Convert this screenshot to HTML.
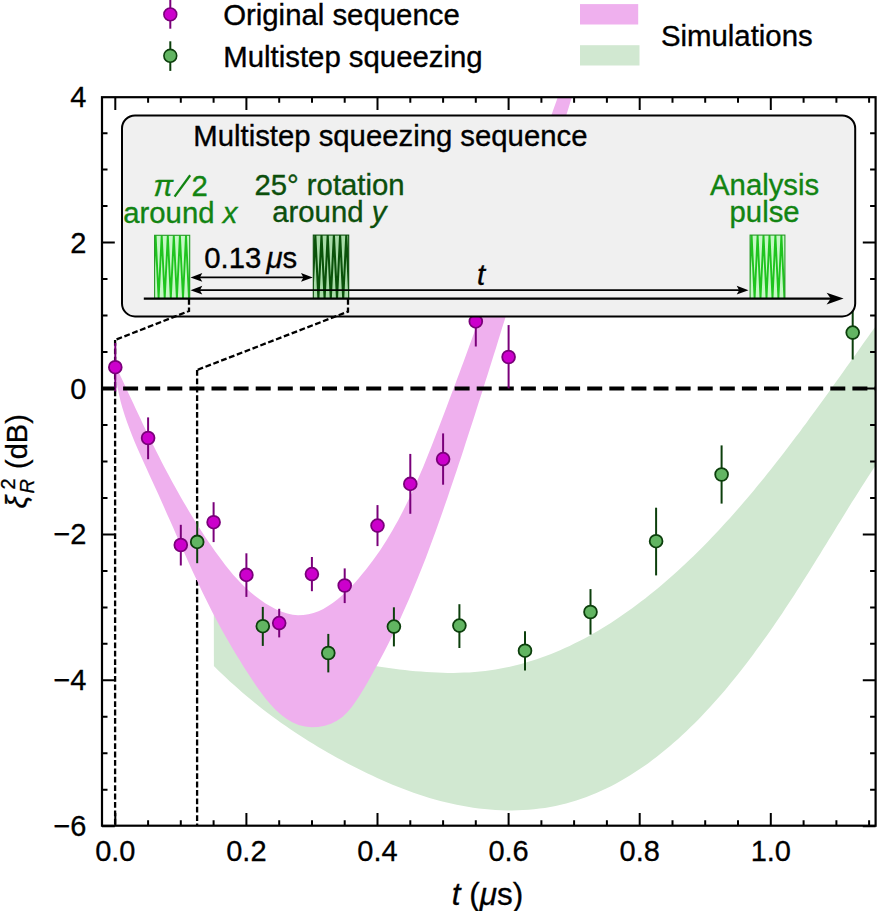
<!DOCTYPE html>
<html><head><meta charset="utf-8"><style>html,body{margin:0;padding:0;background:#fff;width:877px;height:911px;overflow:hidden}svg{display:block}</style></head>
<body><svg width="877" height="911" viewBox="0 0 877 911">
<defs><clipPath id="ax"><rect x="102.0" y="97.2" width="773.6" height="728.5"/></clipPath></defs>
<rect width="877" height="911" fill="#fff"/>
<g clip-path="url(#ax)">
 <path d="M115.1,340V826M197.1,370V826" stroke="#000" stroke-width="2.3" stroke-dasharray="5.8 2.6" fill="none"/>
 <polygon points="213.8,600.5 218.0,603.7 222.3,606.9 226.6,609.9 231.0,612.9 235.4,615.8 239.8,618.5 244.3,621.2 248.8,623.9 253.4,626.4 258.0,628.8 262.6,631.2 267.3,633.5 272.1,635.7 276.8,637.8 281.6,639.9 286.4,641.9 291.3,643.8 296.2,645.6 301.1,647.4 306.1,649.1 311.0,650.7 316.1,652.3 321.1,653.8 326.2,655.3 331.3,656.6 336.4,657.9 341.5,659.2 346.7,660.4 351.9,661.5 357.1,662.6 362.4,663.6 367.6,664.6 372.9,665.5 378.2,666.4 383.5,667.2 388.8,668.0 394.2,668.8 399.5,669.4 404.9,670.1 410.3,670.7 415.7,671.2 421.1,671.6 426.5,672.0 431.9,672.3 437.3,672.6 442.6,672.8 448.0,672.9 453.4,672.9 458.7,672.8 464.1,672.6 469.4,672.4 474.7,672.0 479.9,671.5 485.2,671.0 490.4,670.3 495.6,669.5 500.7,668.6 505.8,667.6 510.9,666.5 516.0,665.3 521.0,664.0 526.0,662.6 531.0,661.1 535.9,659.5 540.8,657.8 545.7,656.0 550.5,654.2 555.4,652.2 560.1,650.2 564.9,648.1 569.6,645.9 574.3,643.6 579.0,641.3 583.6,638.9 588.2,636.4 592.8,633.8 597.3,631.2 601.8,628.5 606.3,625.8 610.8,623.0 615.2,620.1 619.6,617.1 623.9,614.1 628.2,611.1 632.5,608.0 636.8,604.8 641.0,601.6 645.2,598.4 649.4,595.1 653.5,591.7 657.6,588.4 661.7,584.9 665.7,581.5 669.7,578.0 673.7,574.5 677.6,570.9 681.6,567.3 685.4,563.7 689.3,560.0 693.1,556.4 696.9,552.7 700.7,548.9 704.4,545.2 708.1,541.4 711.8,537.6 715.4,533.7 719.0,529.9 722.6,526.0 726.2,522.1 729.8,518.2 733.3,514.3 736.8,510.3 740.3,506.3 743.7,502.3 747.2,498.3 750.6,494.2 754.0,490.2 757.3,486.1 760.7,482.0 764.0,477.9 767.3,473.8 770.6,469.7 773.9,465.5 777.2,461.3 780.4,457.2 783.7,453.0 786.9,448.8 790.1,444.6 793.3,440.3 796.5,436.1 799.7,431.9 802.8,427.6 806.0,423.4 809.1,419.1 812.2,414.8 815.4,410.6 818.5,406.3 821.6,402.0 824.7,397.7 827.8,393.4 830.9,389.1 833.9,384.8 837.0,380.5 840.1,376.2 843.1,371.9 846.2,367.6 849.3,363.3 852.3,359.0 855.4,354.7 858.4,350.4 861.5,346.1 864.5,341.8 867.6,337.6 870.6,333.3 873.7,329.0 876.8,324.7 879.8,320.5 882.9,316.2 886.0,312.0 885.9,449.8 882.6,454.6 879.4,459.4 876.3,464.2 873.2,468.9 870.1,473.7 867.0,478.5 864.0,483.2 860.9,488.0 858.0,492.7 855.0,497.4 852.0,502.1 849.1,506.8 846.2,511.5 843.3,516.2 840.4,520.9 837.5,525.6 834.7,530.2 831.8,534.9 828.9,539.5 826.1,544.2 823.2,548.8 820.4,553.4 817.5,558.1 814.6,562.7 811.8,567.3 808.9,571.9 806.0,576.5 803.1,581.1 800.2,585.7 797.2,590.3 794.3,594.9 791.3,599.4 788.3,604.0 785.3,608.6 782.3,613.2 779.2,617.7 776.1,622.3 772.9,626.9 769.8,631.4 766.6,636.0 763.3,640.5 760.1,645.1 756.7,649.6 753.4,654.2 750.0,658.7 746.6,663.2 743.1,667.7 739.6,672.2 736.0,676.7 732.5,681.1 728.8,685.5 725.2,689.9 721.5,694.2 717.7,698.5 713.9,702.8 710.1,707.0 706.3,711.1 702.4,715.3 698.4,719.4 694.4,723.4 690.4,727.3 686.4,731.3 682.3,735.1 678.1,738.9 673.9,742.6 669.7,746.3 665.4,749.8 661.1,753.3 656.8,756.8 652.4,760.1 648.0,763.4 643.5,766.5 639.0,769.6 634.4,772.6 629.8,775.5 625.2,778.3 620.5,781.1 615.7,783.7 611.0,786.2 606.2,788.6 601.3,790.8 596.4,793.0 591.4,795.1 586.5,797.0 581.4,798.8 576.3,800.5 571.2,802.1 566.1,803.5 560.8,804.8 555.6,806.0 550.3,807.0 544.9,807.9 539.6,808.6 534.1,809.3 528.7,809.7 523.2,810.1 517.7,810.3 512.2,810.4 506.6,810.4 501.1,810.2 495.5,809.9 489.9,809.5 484.4,809.0 478.8,808.4 473.2,807.7 467.7,806.8 462.2,805.8 456.7,804.8 451.2,803.6 445.7,802.3 440.3,800.9 434.9,799.5 429.5,797.9 424.2,796.2 418.8,794.5 413.5,792.7 408.3,790.8 403.0,788.8 397.8,786.8 392.6,784.7 387.4,782.5 382.3,780.3 377.2,778.0 372.1,775.6 367.1,773.2 362.1,770.8 357.1,768.3 352.1,765.7 347.2,763.2 342.3,760.6 337.4,757.9 332.6,755.2 327.7,752.5 323.0,749.7 318.2,746.9 313.5,744.1 308.8,741.2 304.2,738.2 299.5,735.3 294.9,732.2 290.4,729.2 285.8,726.1 281.3,722.9 276.9,719.7 272.4,716.5 268.0,713.2 263.7,709.9 259.3,706.5 255.0,703.0 250.8,699.6 246.5,696.0 242.3,692.5 238.2,688.8 234.0,685.1 229.9,681.4 225.8,677.6 221.8,673.8 217.8,669.9 213.9,666.0" fill="#d1e8d1"/>
 <polygon points="115.8,365.6 118.2,371.0 120.7,376.4 123.2,381.7 125.6,387.1 128.1,392.4 130.6,397.8 133.1,403.1 135.6,408.5 138.1,413.8 140.6,419.1 143.1,424.4 145.7,429.7 148.2,435.0 150.8,440.3 153.4,445.6 156.0,450.8 158.7,456.0 161.3,461.2 164.0,466.4 166.7,471.6 169.5,476.8 172.3,481.9 175.1,487.0 177.9,492.1 180.8,497.2 183.7,502.3 186.7,507.3 189.6,512.3 192.7,517.3 195.7,522.2 198.9,527.2 202.0,532.1 205.2,536.9 208.5,541.8 211.8,546.6 215.2,551.4 218.6,556.1 222.1,560.8 225.6,565.5 229.3,570.1 233.1,574.7 237.1,579.1 241.3,583.5 245.7,587.8 250.3,591.9 255.2,596.0 260.3,599.8 265.5,603.4 270.9,606.6 276.3,609.4 281.8,611.8 287.3,613.6 292.7,614.8 298.0,615.3 303.3,615.1 308.5,614.3 313.5,613.0 318.5,611.2 323.3,608.9 328.1,606.1 332.7,603.0 337.3,599.5 341.7,595.8 346.0,591.7 350.3,587.5 354.4,583.2 358.4,578.7 362.2,574.1 366.0,569.5 369.6,564.8 373.2,560.1 376.6,555.3 380.0,550.4 383.2,545.5 386.4,540.5 389.4,535.5 392.4,530.4 395.3,525.3 398.2,520.2 400.9,515.0 403.6,509.8 406.2,504.5 408.8,499.2 411.3,493.9 413.8,488.5 416.2,483.2 418.5,477.8 420.9,472.3 423.2,466.9 425.4,461.4 427.6,456.0 429.8,450.5 432.0,445.0 434.1,439.5 436.2,434.0 438.4,428.5 440.5,423.0 442.6,417.5 444.7,412.0 446.8,406.5 448.8,400.9 450.9,395.4 453.0,389.9 455.1,384.4 457.1,378.9 459.2,373.4 461.2,367.9 463.3,362.4 465.3,356.9 467.3,351.4 469.3,345.9 471.4,340.3 473.4,334.8 475.4,329.3 477.4,323.8 479.4,318.3 481.4,312.8 483.4,307.3 485.4,301.8 487.4,296.2 489.4,290.7 491.3,285.2 493.3,279.7 495.3,274.2 497.3,268.6 499.2,263.1 501.2,257.6 503.2,252.1 505.1,246.6 507.1,241.0 509.1,235.5 511.0,230.0 513.0,224.4 514.9,218.9 516.9,213.4 518.8,207.8 520.8,202.3 522.7,196.8 524.7,191.2 526.6,185.7 528.6,180.1 530.5,174.6 532.5,169.0 534.4,163.5 536.4,157.9 538.3,152.4 540.3,146.8 542.2,141.3 544.2,135.7 546.2,130.1 548.1,124.6 550.1,119.0 552.0,113.4 554.0,107.8 556.0,102.3 557.9,96.7 559.9,91.1 561.9,85.5 563.9,79.9 577.0,80.1 574.9,86.9 572.8,93.8 570.8,100.6 568.7,107.5 566.6,114.3 564.6,121.2 562.5,128.0 560.5,134.9 558.4,141.8 556.4,148.6 554.3,155.5 552.2,162.4 550.2,169.2 548.1,176.1 546.1,183.0 544.0,189.9 541.9,196.7 539.9,203.6 537.8,210.5 535.8,217.4 533.7,224.2 531.6,231.1 529.5,238.0 527.5,244.9 525.4,251.7 523.3,258.6 521.2,265.5 519.2,272.4 517.1,279.2 515.0,286.1 512.9,293.0 510.8,299.9 508.7,306.7 506.6,313.6 504.5,320.5 502.3,327.3 500.2,334.2 498.1,341.0 496.0,347.9 493.8,354.7 491.7,361.6 489.5,368.4 487.4,375.3 485.2,382.1 483.1,389.0 480.9,395.8 478.7,402.6 476.5,409.5 474.4,416.3 472.2,423.1 469.9,429.9 467.7,436.7 465.5,443.6 463.3,450.4 461.1,457.2 458.8,464.0 456.6,470.7 454.3,477.5 452.0,484.3 449.7,491.1 447.4,497.9 445.1,504.6 442.7,511.4 440.4,518.1 438.0,524.8 435.6,531.6 433.1,538.3 430.6,545.0 428.1,551.7 425.6,558.4 423.0,565.0 420.3,571.7 417.7,578.3 414.9,585.0 412.2,591.6 409.4,598.2 406.5,604.8 403.6,611.3 400.6,617.9 397.6,624.4 394.5,630.9 391.4,637.4 388.2,643.9 384.9,650.4 381.6,656.8 378.1,663.2 374.7,669.6 371.1,676.0 367.5,682.4 363.8,688.7 360.0,695.0 356.0,701.1 351.8,706.9 347.3,712.3 342.4,716.9 336.9,720.8 331.0,723.8 324.8,725.8 318.2,727.0 311.6,727.2 305.0,726.5 298.5,724.9 292.3,722.3 286.4,718.8 280.8,714.6 275.5,709.7 270.4,704.3 265.5,698.5 260.8,692.3 256.3,686.0 252.0,679.6 247.9,673.2 243.8,666.9 239.9,660.6 236.1,654.4 232.4,648.3 228.8,642.1 225.3,636.0 221.9,629.9 218.5,623.7 215.2,617.5 212.0,611.4 208.8,605.1 205.7,598.8 202.6,592.5 199.5,586.1 196.5,579.6 193.5,573.2 190.5,566.7 187.5,560.1 184.6,553.6 181.7,547.0 178.7,540.4 175.8,533.8 172.9,527.1 170.0,520.5 167.0,513.9 164.1,507.3 161.2,500.7 158.2,494.1 155.2,487.5 152.2,480.9 149.2,474.4 146.2,467.8 143.2,461.3 140.3,454.8 137.4,448.2 134.6,441.7 131.9,435.1 129.4,428.4 126.9,421.8 124.6,415.0 122.5,408.3 120.6,401.4 119.0,394.5 117.5,387.5 116.3,380.4 115.4,373.2 114.7,365.9" fill="#efb0ee"/>
 <path d="M101,388.5H876" stroke="#000" stroke-width="4" stroke-dasharray="15 7.1"/>
 <path d="M115.3,343V391.4" stroke="#7a007a" stroke-width="2"/><circle cx="115.3" cy="367.2" r="6.4" fill="#cc00cc" stroke="#7a007a" stroke-width="1.8"/><path d="M148.1,417.4V459.2" stroke="#7a007a" stroke-width="2"/><circle cx="148.1" cy="438" r="6.4" fill="#cc00cc" stroke="#7a007a" stroke-width="1.8"/><path d="M180.8,524.8V565.5" stroke="#7a007a" stroke-width="2"/><circle cx="180.8" cy="545" r="6.4" fill="#cc00cc" stroke="#7a007a" stroke-width="1.8"/><path d="M213.6,502.2V542.1" stroke="#7a007a" stroke-width="2"/><circle cx="213.6" cy="522.2" r="6.4" fill="#cc00cc" stroke="#7a007a" stroke-width="1.8"/><path d="M246.4,553.3V596.9" stroke="#7a007a" stroke-width="2"/><circle cx="246.4" cy="574.9" r="6.4" fill="#cc00cc" stroke="#7a007a" stroke-width="1.8"/><path d="M279.2,608.8V637.4" stroke="#7a007a" stroke-width="2"/><circle cx="279.2" cy="623.1" r="6.4" fill="#cc00cc" stroke="#7a007a" stroke-width="1.8"/><path d="M311.9,557V591.2" stroke="#7a007a" stroke-width="2"/><circle cx="311.9" cy="574.1" r="6.4" fill="#cc00cc" stroke="#7a007a" stroke-width="1.8"/><path d="M344.7,568.4V603.1" stroke="#7a007a" stroke-width="2"/><circle cx="344.7" cy="585.5" r="6.4" fill="#cc00cc" stroke="#7a007a" stroke-width="1.8"/><path d="M377.5,505.1V546.1" stroke="#7a007a" stroke-width="2"/><circle cx="377.5" cy="525.6" r="6.4" fill="#cc00cc" stroke="#7a007a" stroke-width="1.8"/><path d="M410.3,453.9V513.8" stroke="#7a007a" stroke-width="2"/><circle cx="410.3" cy="483.9" r="6.4" fill="#cc00cc" stroke="#7a007a" stroke-width="1.8"/><path d="M443.1,433.4V484.7" stroke="#7a007a" stroke-width="2"/><circle cx="443.1" cy="459.1" r="6.4" fill="#cc00cc" stroke="#7a007a" stroke-width="1.8"/><path d="M475.8,296.3V346.5" stroke="#7a007a" stroke-width="2"/><circle cx="475.8" cy="321.4" r="6.4" fill="#cc00cc" stroke="#7a007a" stroke-width="1.8"/><path d="M508.6,325.1V388.4" stroke="#7a007a" stroke-width="2"/><circle cx="508.6" cy="357" r="6.4" fill="#cc00cc" stroke="#7a007a" stroke-width="1.8"/>
 <path d="M197.2,521.3V563.2" stroke="#0c3f0c" stroke-width="2"/><circle cx="197.2" cy="541.9" r="6.4" fill="#62b562" stroke="#0c3f0c" stroke-width="1.8"/><path d="M262.8,606.9V645.9" stroke="#0c3f0c" stroke-width="2"/><circle cx="262.8" cy="626.2" r="6.4" fill="#62b562" stroke="#0c3f0c" stroke-width="1.8"/><path d="M328.3,633.9V672.4" stroke="#0c3f0c" stroke-width="2"/><circle cx="328.3" cy="653" r="6.4" fill="#62b562" stroke="#0c3f0c" stroke-width="1.8"/><path d="M393.9,607.3V646.4" stroke="#0c3f0c" stroke-width="2"/><circle cx="393.9" cy="626.6" r="6.4" fill="#62b562" stroke="#0c3f0c" stroke-width="1.8"/><path d="M459.4,604.2V648" stroke="#0c3f0c" stroke-width="2"/><circle cx="459.4" cy="625.6" r="6.4" fill="#62b562" stroke="#0c3f0c" stroke-width="1.8"/><path d="M525.0,631.2V670.5" stroke="#0c3f0c" stroke-width="2"/><circle cx="525.0" cy="650.7" r="6.4" fill="#62b562" stroke="#0c3f0c" stroke-width="1.8"/><path d="M590.5,589.1V634.6" stroke="#0c3f0c" stroke-width="2"/><circle cx="590.5" cy="612" r="6.4" fill="#62b562" stroke="#0c3f0c" stroke-width="1.8"/><path d="M656.1,507.7V575.4" stroke="#0c3f0c" stroke-width="2"/><circle cx="656.1" cy="541.2" r="6.4" fill="#62b562" stroke="#0c3f0c" stroke-width="1.8"/><path d="M721.6,445.4V503.6" stroke="#0c3f0c" stroke-width="2"/><circle cx="721.6" cy="474.5" r="6.4" fill="#62b562" stroke="#0c3f0c" stroke-width="1.8"/><path d="M852.7,305.6V359.6" stroke="#0c3f0c" stroke-width="2"/><circle cx="852.7" cy="332.6" r="6.4" fill="#62b562" stroke="#0c3f0c" stroke-width="1.8"/>
</g>
<!-- inset box -->
<rect x="122" y="115.5" width="733.2" height="200.9" rx="13" ry="13" fill="#f0f0f0" stroke="#000" stroke-width="2"/>
<g font-family="'Liberation Sans', sans-serif" font-size="29.3" stroke-width="0.35">
 <text x="193.3" y="146" fill="#000" stroke="#000">Multistep squeezing sequence</text>
 <g fill="#128412" stroke="#128412">
  <text x="153.5" y="196.4" font-style="italic">&#960;</text>
  <path d="M174.6,196.6L190.2,175.3" stroke-width="2.3"/>
  <text x="191.6" y="196.4">2</text>
  <text x="180.3" y="223.4" text-anchor="middle">around <tspan font-style="italic">x</tspan></text>
  <text x="764.6" y="195" text-anchor="middle">Analysis</text>
  <text x="764.6" y="222.2" text-anchor="middle">pulse</text>
 </g>
 <g fill="#0c4f0c" stroke="#0c4f0c" text-anchor="middle">
  <text x="329.5" y="195.2">25° rotation</text>
  <text x="329.3" y="222.4">around <tspan font-style="italic">y</tspan></text>
 </g>
 <g fill="#000" stroke="#000">
  <text x="204.3" y="268.3">0.13</text>
  <text x="266.5" y="268.3"><tspan font-style="italic">&#956;</tspan>s</text>
  <text x="477" y="284.6" font-style="italic">t</text>
 </g>
</g>
<clipPath id="pc1"><rect x="154.6" y="235.3" width="35.099999999999994" height="63.19999999999999"/></clipPath><rect x="154.6" y="235.3" width="35.099999999999994" height="63.19999999999999" fill="#c6f7c6"/><polyline clip-path="url(#pc1)" points="152.6,298.5 155.6,235.3 158.6,298.5 161.7,235.3 164.7,298.5 167.8,235.3 170.8,298.5 173.8,235.3 176.9,298.5 179.9,235.3 183.0,298.5 186.0,235.3 189.0,298.5 192.1,235.3" fill="none" stroke="#1ec41e" stroke-width="1.9" stroke-linejoin="round"/><rect x="154.6" y="235.3" width="35.099999999999994" height="63.19999999999999" fill="none" stroke="#259a25" stroke-width="1.1"/>
<clipPath id="pc2"><rect x="313.3" y="235.1" width="35.39999999999998" height="63.400000000000006"/></clipPath><rect x="313.3" y="235.1" width="35.39999999999998" height="63.400000000000006" fill="#a8dca8"/><polyline clip-path="url(#pc2)" points="312.2,298.5 315.3,235.1 318.4,298.5 321.5,235.1 324.6,298.5 327.7,235.1 330.8,298.5 333.9,235.1 337.0,298.5 340.1,235.1 343.2,298.5 346.3,235.1 349.4,298.5" fill="none" stroke="#0a520a" stroke-width="2.1" stroke-linejoin="round"/><rect x="313.3" y="235.1" width="35.39999999999998" height="63.400000000000006" fill="none" stroke="#0b4d0b" stroke-width="1.1"/>
<clipPath id="pc3"><rect x="750.1" y="235.1" width="34.799999999999955" height="63.400000000000006"/></clipPath><rect x="750.1" y="235.1" width="34.799999999999955" height="63.400000000000006" fill="#c6f7c6"/><polyline clip-path="url(#pc3)" points="748.6,298.5 751.6,235.1 754.6,298.5 757.6,235.1 760.5,298.5 763.5,235.1 766.5,298.5 769.5,235.1 772.5,298.5 775.4,235.1 778.4,298.5 781.4,235.1 784.4,298.5 787.4,235.1" fill="none" stroke="#1ec41e" stroke-width="1.9" stroke-linejoin="round"/><rect x="750.1" y="235.1" width="34.799999999999955" height="63.400000000000006" fill="none" stroke="#259a25" stroke-width="1.1"/>
<path d="M143.8,298.6H832" stroke="#000" stroke-width="2.2"/>
<path d="M843.6,298.6L826.6,292.70000000000005L830.8000000000001,298.6L826.6,304.5Z" fill="#000"/>
<path d="M198,277.4H305" stroke="#000" stroke-width="1.7"/>
<path d="M190.5,277.4L202.3,273.0L199.9,277.4L202.3,281.79999999999995Z" fill="#000"/><path d="M312.8,277.4L301.0,273.0L303.40000000000003,277.4L301.0,281.79999999999995Z" fill="#000"/>
<path d="M198,290.2H741" stroke="#000" stroke-width="1.7"/>
<path d="M190.5,290.2L202.3,285.8L199.9,290.2L202.3,294.59999999999997Z" fill="#000"/><path d="M748.5,290.2L736.7,285.8L739.1,290.2L736.7,294.59999999999997Z" fill="#000"/>
<path d="M189,299V311L115.1,340M348,299V311.6L197.1,370" stroke="#000" stroke-width="2.3" stroke-dasharray="5.8 2.6" fill="none"/>
<!-- frame -->
<rect x="102.0" y="97.2" width="773.6" height="728.5" fill="none" stroke="#000" stroke-width="2.2"/>
<path d="M115.3,825.7V812.9000000000001M115.3,97.2V110.0M148.1,825.7V820.2M148.1,97.2V102.7M180.8,825.7V820.2M180.8,97.2V102.7M213.6,825.7V820.2M213.6,97.2V102.7M246.4,825.7V812.9000000000001M246.4,97.2V110.0M279.2,825.7V820.2M279.2,97.2V102.7M312.0,825.7V820.2M312.0,97.2V102.7M344.7,825.7V820.2M344.7,97.2V102.7M377.5,825.7V812.9000000000001M377.5,97.2V110.0M410.3,825.7V820.2M410.3,97.2V102.7M443.1,825.7V820.2M443.1,97.2V102.7M475.8,825.7V820.2M475.8,97.2V102.7M508.6,825.7V812.9000000000001M508.6,97.2V110.0M541.4,825.7V820.2M541.4,97.2V102.7M574.1,825.7V820.2M574.1,97.2V102.7M606.9,825.7V820.2M606.9,97.2V102.7M639.7,825.7V812.9000000000001M639.7,97.2V110.0M672.5,825.7V820.2M672.5,97.2V102.7M705.2,825.7V820.2M705.2,97.2V102.7M738.0,825.7V820.2M738.0,97.2V102.7M770.8,825.7V812.9000000000001M770.8,97.2V110.0M803.6,825.7V820.2M803.6,97.2V102.7M836.4,825.7V820.2M836.4,97.2V102.7M869.1,825.7V820.2M869.1,97.2V102.7M102.0,826.2H114.8M875.6,826.2H862.8000000000001M102.0,789.7H107.5M875.6,789.7H870.1M102.0,753.2H107.5M875.6,753.2H870.1M102.0,716.8H107.5M875.6,716.8H870.1M102.0,680.3H114.8M875.6,680.3H862.8000000000001M102.0,643.8H107.5M875.6,643.8H870.1M102.0,607.4H107.5M875.6,607.4H870.1M102.0,570.9H107.5M875.6,570.9H870.1M102.0,534.4H114.8M875.6,534.4H862.8000000000001M102.0,497.9H107.5M875.6,497.9H870.1M102.0,461.4H107.5M875.6,461.4H870.1M102.0,425.0H107.5M875.6,425.0H870.1M102.0,388.5H114.8M875.6,388.5H862.8000000000001M102.0,352.0H107.5M875.6,352.0H870.1M102.0,315.6H107.5M875.6,315.6H870.1M102.0,279.1H107.5M875.6,279.1H870.1M102.0,242.6H114.8M875.6,242.6H862.8000000000001M102.0,206.1H107.5M875.6,206.1H870.1M102.0,169.6H107.5M875.6,169.6H870.1M102.0,133.2H107.5M875.6,133.2H870.1" stroke="#000" stroke-width="2"/>
<g font-family="'Liberation Sans', sans-serif" font-size="29" fill="#000" stroke="#000" stroke-width="0.3">
 <text x="115.3" y="861" text-anchor="middle">0.0</text><text x="246.4" y="861" text-anchor="middle">0.2</text><text x="377.5" y="861" text-anchor="middle">0.4</text><text x="508.6" y="861" text-anchor="middle">0.6</text><text x="639.7" y="861" text-anchor="middle">0.8</text><text x="770.8" y="861" text-anchor="middle">1.0</text>
 <text x="86.5" y="107.0" text-anchor="end">4</text><text x="86.5" y="252.9" text-anchor="end">2</text><text x="86.5" y="398.8" text-anchor="end">0</text><text x="86.5" y="543.8" text-anchor="end">&#8722;2</text><text x="86.5" y="689.7" text-anchor="end">&#8722;4</text><text x="86.5" y="835.6" text-anchor="end">&#8722;6</text>
 <text x="487.6" y="904.7" text-anchor="middle" font-size="30.5" textLength="71.5" lengthAdjust="spacingAndGlyphs"><tspan font-style="italic">t</tspan> (<tspan font-style="italic">&#956;</tspan>s)</text>
 <g transform="translate(27,508.5) rotate(-90)">
  <text x="0" y="0" font-style="italic">&#958;</text>
  <text x="19" y="-12" font-size="20">2</text>
  <text x="15" y="7" font-size="20" font-style="italic">R</text>
  <text x="39.5" y="0">(dB)</text>
 </g>
 <!-- legend -->
 <g font-size="29.35" stroke-width="0.35"><text x="223.2" y="25.2">Original sequence</text>
 <text x="223.3" y="66.5">Multistep squeezing</text>
 <text x="661" y="46">Simulations</text></g>
</g>
<path d="M170.3,0V28.7" stroke="#7a007a" stroke-width="2"/><circle cx="170.3" cy="14.4" r="6.4" fill="#cc00cc" stroke="#7a007a" stroke-width="1.6"/>
<path d="M170.3,41.3V70.9" stroke="#0c3f0c" stroke-width="2"/><circle cx="170.3" cy="55.8" r="6.4" fill="#62b562" stroke="#0c3f0c" stroke-width="1.6"/>
<rect x="580" y="4.1" width="58.2" height="20.4" fill="#efb0ee"/>
<rect x="580" y="45.2" width="59.5" height="20.3" fill="#d1e8d1"/>
</svg></body></html>
